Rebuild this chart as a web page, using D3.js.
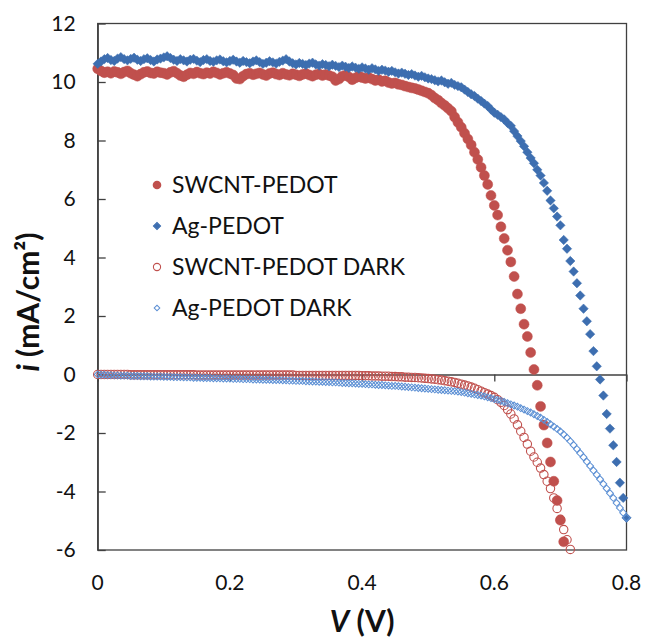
<!DOCTYPE html>
<html>
<head>
<meta charset="utf-8">
<script src="https://cdn.jsdelivr.net/npm/d3@7"></script>
<style>
  body { margin: 0; background: #fff; }
  text { font-family: Lato, 'Open Sans', sans-serif; fill: #111; }
</style>
</head>
<body>
<div id="chart"></div>
<script>
// voltage sweep (V), one entry per measured point
const voltage = [
  0, 0.005, 0.01, 0.015, 0.02, 0.025, 0.03, 0.035, 0.04, 0.045, 0.05, 0.055, 0.06, 0.065, 0.07, 0.075, 0.08, 0.085, 0.09, 0.095,
  0.1, 0.105, 0.11, 0.115, 0.12, 0.125, 0.13, 0.135, 0.14, 0.145, 0.15, 0.155, 0.16, 0.165, 0.17, 0.175, 0.18, 0.185, 0.19, 0.195,
  0.2, 0.205, 0.21, 0.215, 0.22, 0.225, 0.23, 0.235, 0.24, 0.245, 0.25, 0.255, 0.26, 0.265, 0.27, 0.275, 0.28, 0.285, 0.29, 0.295,
  0.3, 0.305, 0.31, 0.315, 0.32, 0.325, 0.33, 0.335, 0.34, 0.345, 0.35, 0.355, 0.36, 0.365, 0.37, 0.375, 0.38, 0.385, 0.39, 0.395,
  0.4, 0.405, 0.41, 0.415, 0.42, 0.425, 0.43, 0.435, 0.44, 0.445, 0.45, 0.455, 0.46, 0.465, 0.47, 0.475, 0.48, 0.485, 0.49, 0.495,
  0.5, 0.505, 0.51, 0.515, 0.52, 0.525, 0.53, 0.535, 0.54, 0.545, 0.55, 0.555, 0.56, 0.565, 0.57, 0.575, 0.58, 0.585, 0.59, 0.595,
  0.6, 0.605, 0.61, 0.615, 0.62, 0.625, 0.63, 0.635, 0.64, 0.645, 0.65, 0.655, 0.66, 0.665, 0.67, 0.675, 0.68, 0.685, 0.69, 0.695,
  0.7, 0.705, 0.71, 0.715, 0.72, 0.725, 0.73, 0.735, 0.74, 0.745, 0.75, 0.755, 0.76, 0.765, 0.77, 0.775, 0.78, 0.785, 0.79, 0.795,
  0.8
]

// current density (mA/cm2), index matches voltage
const swcnt = [
  10.45, 10.38, 10.32, 10.35, 10.30, 10.36, 10.33, 10.28, 10.34, 10.38, 10.30, 10.25, 10.20, 10.27, 10.33, 10.36, 10.31, 10.29, 10.35, 10.32,
  10.30, 10.26, 10.33, 10.37, 10.30, 10.22, 10.18, 10.25, 10.31, 10.28, 10.34, 10.30, 10.27, 10.32, 10.29, 10.35, 10.31, 10.26, 10.30, 10.33,
  10.29, 10.24, 10.12, 10.10, 10.20, 10.27, 10.30, 10.25, 10.28, 10.31, 10.26, 10.22, 10.29, 10.32, 10.27, 10.24, 10.30, 10.26, 10.23, 10.28,
  10.25, 10.21, 10.26, 10.29, 10.24, 10.20, 10.25, 10.27, 10.22, 10.26, 10.22, 10.18, 10.05, 10.10, 10.20, 10.23, 10.17, 10.08, 10.14, 10.20,
  10.15, 10.12, 10.15, 10.10, 10.05, 10.08, 10.02, 10.04, 9.98, 9.95, 9.97, 9.92, 9.90, 9.86, 9.83, 9.80, 9.78, 9.74, 9.70, 9.66,
  9.62, 9.55, 9.45, 9.38, 9.28, 9.20, 9.10, 9.00, 8.80, 8.62, 8.45, 8.25, 8.05, 7.85, 7.60, 7.35, 7.08, 6.80, 6.50, 6.12,
  5.78, 5.45, 5.05, 4.65, 4.25, 3.85, 3.35, 2.75, 2.25, 1.72, 1.30, 0.75, 0.17, -0.37, -1.09, -1.73, -2.34, -2.99, -3.65, -4.31,
  -4.98, -5.72
]
const ag = [
  10.62, 10.70, 10.78, 10.82, 10.75, 10.72, 10.80, 10.85, 10.78, 10.74, 10.79, 10.83, 10.76, 10.72, 10.78, 10.81, 10.75, 10.70, 10.77, 10.80,
  10.84, 10.88, 10.82, 10.76, 10.72, 10.78, 10.74, 10.70, 10.76, 10.79, 10.73, 10.68, 10.75, 10.78, 10.72, 10.69, 10.74, 10.77, 10.71, 10.67,
  10.72, 10.76, 10.70, 10.66, 10.72, 10.68, 10.64, 10.70, 10.74, 10.68, 10.62, 10.66, 10.71, 10.67, 10.63, 10.69, 10.73, 10.78, 10.70, 10.64,
  10.60, 10.65, 10.62, 10.58, 10.63, 10.66, 10.60, 10.56, 10.61, 10.58, 10.54, 10.59, 10.55, 10.51, 10.56, 10.52, 10.48, 10.53, 10.49, 10.45,
  10.50, 10.46, 10.42, 10.47, 10.43, 10.38, 10.42, 10.39, 10.35, 10.38, 10.33, 10.29, 10.32, 10.28, 10.24, 10.27, 10.22, 10.18, 10.21, 10.16,
  10.12, 10.10, 10.06, 10.02, 10.05, 9.99, 9.94, 9.97, 9.90, 9.86, 9.82, 9.74, 9.66, 9.58, 9.52, 9.43, 9.35, 9.26, 9.18, 9.06,
  8.95, 8.88, 8.80, 8.72, 8.60, 8.50, 8.32, 8.15, 7.98, 7.80, 7.60, 7.40, 7.22, 7.00, 6.80, 6.55, 6.28, 5.95, 5.68, 5.40,
  5.10, 4.60, 4.30, 3.88, 3.52, 3.12, 2.70, 2.25, 1.82, 1.38, 0.80, 0.28, -0.17, -0.72, -1.35, -1.85, -2.42, -2.99, -3.70, -4.22,
  -4.90
]
const swcntDark = [
  0, 0, 0, 0, 0, 0, 0, 0, 0, 0, -0.01, -0.01, -0.01, -0.01, -0.01, -0.01, -0.01, -0.01, -0.01, -0.01,
  -0.01, -0.01, -0.01, -0.01, -0.01, -0.01, -0.01, -0.01, -0.01, -0.01, -0.02, -0.02, -0.02, -0.02, -0.02, -0.02, -0.02, -0.02, -0.02, -0.02,
  -0.02, -0.02, -0.02, -0.02, -0.02, -0.02, -0.02, -0.02, -0.02, -0.02, -0.02, -0.02, -0.02, -0.02, -0.02, -0.02, -0.02, -0.02, -0.02, -0.02,
  -0.03, -0.03, -0.03, -0.03, -0.03, -0.03, -0.03, -0.03, -0.03, -0.03, -0.03, -0.03, -0.03, -0.03, -0.03, -0.03, -0.03, -0.03, -0.03, -0.03,
  -0.04, -0.04, -0.04, -0.05, -0.05, -0.05, -0.06, -0.06, -0.06, -0.07, -0.07, -0.08, -0.08, -0.09, -0.09, -0.10, -0.10, -0.11, -0.12, -0.13,
  -0.14, -0.15, -0.16, -0.18, -0.19, -0.21, -0.23, -0.25, -0.27, -0.30, -0.33, -0.36, -0.39, -0.43, -0.47, -0.52, -0.57, -0.62, -0.67, -0.72,
  -0.78, -0.86, -0.95, -1.06, -1.20, -1.35, -1.52, -1.72, -1.94, -2.15, -2.38, -2.62, -2.82, -3.00, -3.20, -3.42, -3.65, -3.90, -4.22, -4.58,
  -4.95, -5.30, -5.65, -5.98
]
const agDark = [
  0, -0.01, -0.01, -0.02, -0.02, -0.03, -0.03, -0.04, -0.04, -0.04, -0.05, -0.05, -0.05, -0.06, -0.06, -0.06, -0.07, -0.07, -0.07, -0.07,
  -0.08, -0.08, -0.08, -0.09, -0.09, -0.09, -0.10, -0.10, -0.10, -0.11, -0.11, -0.11, -0.12, -0.12, -0.12, -0.13, -0.13, -0.13, -0.14, -0.14,
  -0.14, -0.15, -0.15, -0.15, -0.16, -0.16, -0.16, -0.17, -0.17, -0.17, -0.18, -0.18, -0.18, -0.19, -0.19, -0.19, -0.20, -0.20, -0.21, -0.21,
  -0.22, -0.22, -0.22, -0.23, -0.23, -0.24, -0.24, -0.25, -0.25, -0.26, -0.26, -0.27, -0.27, -0.28, -0.29, -0.29, -0.30, -0.30, -0.31, -0.32,
  -0.32, -0.33, -0.34, -0.34, -0.35, -0.36, -0.36, -0.37, -0.38, -0.39, -0.39, -0.40, -0.41, -0.42, -0.43, -0.44, -0.45, -0.46, -0.47, -0.48,
  -0.49, -0.50, -0.51, -0.52, -0.53, -0.54, -0.55, -0.56, -0.57, -0.58, -0.60, -0.62, -0.64, -0.66, -0.68, -0.70, -0.72, -0.75, -0.78, -0.81,
  -0.84, -0.87, -0.90, -0.94, -0.98, -1.02, -1.06, -1.10, -1.15, -1.20, -1.25, -1.30, -1.36, -1.42, -1.48, -1.55, -1.62, -1.70, -1.78, -1.86,
  -1.95, -2.05, -2.16, -2.28, -2.41, -2.55, -2.69, -2.83, -2.98, -3.13, -3.28, -3.43, -3.58, -3.74, -3.90, -4.06, -4.22, -4.39, -4.56, -4.73,
  -4.90
]

const seriesNames = ['SWCNT-PEDOT', 'Ag-PEDOT', 'SWCNT-PEDOT DARK', 'Ag-PEDOT DARK']
const xTicks = [0, 0.2, 0.4, 0.6, 0.8]
const yTicks = [-6, -4, -2, 0, 2, 4, 6, 8, 10, 12]

// page / plot area
const width = 646
const height = 640
const plot = { left: 97.7, right: 626.5, top: 23.5, bottom: 550 }
const axisColor = '#404040'

const svg = d3.select('#chart')
  .append('svg')
  .attr('width', width)
  .attr('height', height)

const x = d3.scaleLinear().domain([0, 0.8]).range([plot.left, plot.right])
const y = d3.scaleLinear().domain([-6, 12]).range([plot.bottom, plot.top])

// plot frame
svg.append('rect')
  .attr('x', plot.left)
  .attr('y', plot.top)
  .attr('width', plot.right - plot.left)
  .attr('height', plot.bottom - plot.top)
  .attr('fill', 'none')
  .attr('stroke', axisColor)
  .attr('stroke-width', 1.3)

// Y axis, ticks pointing into the plot
const yAxis = svg.append('g')
  .attr('transform', 'translate(' + plot.left + ',0)')
  .call(d3.axisLeft(y).tickValues(yTicks).tickSize(-8).tickSizeOuter(0).tickPadding(22)
    .tickFormat(function (d) { return String(d) }))
yAxis.select('.domain').attr('stroke', axisColor).attr('stroke-width', 1.3)
yAxis.selectAll('.tick line').attr('stroke', axisColor).attr('stroke-width', 1.3)
yAxis.selectAll('.tick text').style('font-size', '21px').attr('fill', '#111')

// X axis drawn along i = 0, labels at the bottom
const xAxis = svg.append('g')
  .attr('transform', 'translate(0,' + y(0) + ')')
  .call(d3.axisBottom(x).tickValues(xTicks).tickSize(7).tickSizeOuter(0).tickFormat(''))
xAxis.select('.domain').attr('stroke', axisColor).attr('stroke-width', 1.3)
xAxis.selectAll('.tick line').attr('stroke', axisColor).attr('stroke-width', 1.3)

svg.append('g')
  .selectAll('text')
  .data(xTicks)
  .enter()
  .append('text')
  .attr('x', function (d) { return x(d) })
  .attr('y', 590)
  .attr('text-anchor', 'middle')
  .style('font-size', '21px')
  .text(function (d) { return d === 0 ? '0' : d.toFixed(1) })

// markers
const red = '#C0504D'
const blue = '#3D6EB0'
const lightBlue = '#5B8FD4'
const diamond = d3.symbol().type(d3.symbolSquare)

function points (values) {
  return values.map(function (v, i) { return { v: voltage[i], i: v } })
}

function drawCircles (values, r, filled) {
  svg.append('g')
    .selectAll('circle')
    .data(points(values))
    .enter()
    .append('circle')
    .attr('cx', function (d) { return x(d.v) })
    .attr('cy', function (d) { return y(d.i) })
    .attr('r', r)
    .attr('fill', filled ? red : 'none')
    .attr('stroke', red)
    .attr('stroke-width', filled ? 0.5 : 1.1)
}

function drawDiamonds (values, size, filled) {
  svg.append('g')
    .selectAll('path')
    .data(points(values))
    .enter()
    .append('path')
    .attr('d', diamond.size(size)())
    .attr('transform', function (d) { return 'translate(' + x(d.v) + ',' + y(d.i) + ') rotate(45)' })
    .attr('fill', filled ? blue : 'none')
    .attr('stroke', filled ? blue : lightBlue)
    .attr('stroke-width', filled ? 0.5 : 1)
}

drawCircles(swcnt, 5, true)
drawDiamonds(ag, 44, true)
drawCircles(swcntDark, 4.2, false)
drawDiamonds(agDark, 24, false)

// legend
const legendX = 157
const legendY = [185, 226, 267, 308]
const legend = svg.append('g')
seriesNames.forEach(function (name, k) {
  const cy = legendY[k]
  if (k === 0) {
    legend.append('circle').attr('cx', legendX).attr('cy', cy).attr('r', 4.3).attr('fill', red)
  } else if (k === 2) {
    legend.append('circle').attr('cx', legendX).attr('cy', cy).attr('r', 3.6)
      .attr('fill', 'none').attr('stroke', red).attr('stroke-width', 1.1)
  } else {
    legend.append('path')
      .attr('d', diamond.size(k === 1 ? 26 : 16)())
      .attr('transform', 'translate(' + legendX + ',' + cy + ') rotate(45)')
      .attr('fill', k === 1 ? blue : 'none')
      .attr('stroke', k === 1 ? blue : lightBlue)
      .attr('stroke-width', 1)
  }
  legend.append('text')
    .attr('x', legendX + 15)
    .attr('y', cy)
    .attr('dy', '0.36em')
    .style('font-size', '23px')
    .text(name)
})

// axis titles
const yTitle = svg.append('text')
  .attr('transform', 'translate(39,302) rotate(-90)')
  .attr('text-anchor', 'middle')
  .style('font-size', '30px')
  .style('font-weight', 'bold')
yTitle.append('tspan').style('font-style', 'italic').text('i')
yTitle.append('tspan').text(' (mA/cm²)')

const xTitle = svg.append('text')
  .attr('x', (plot.left + plot.right) / 2)
  .attr('y', 632)
  .attr('text-anchor', 'middle')
  .style('font-size', '30px')
  .style('font-weight', 'bold')
xTitle.append('tspan').style('font-style', 'italic').text('V')
xTitle.append('tspan').text(' (V)')
</script>
</body>
</html>
